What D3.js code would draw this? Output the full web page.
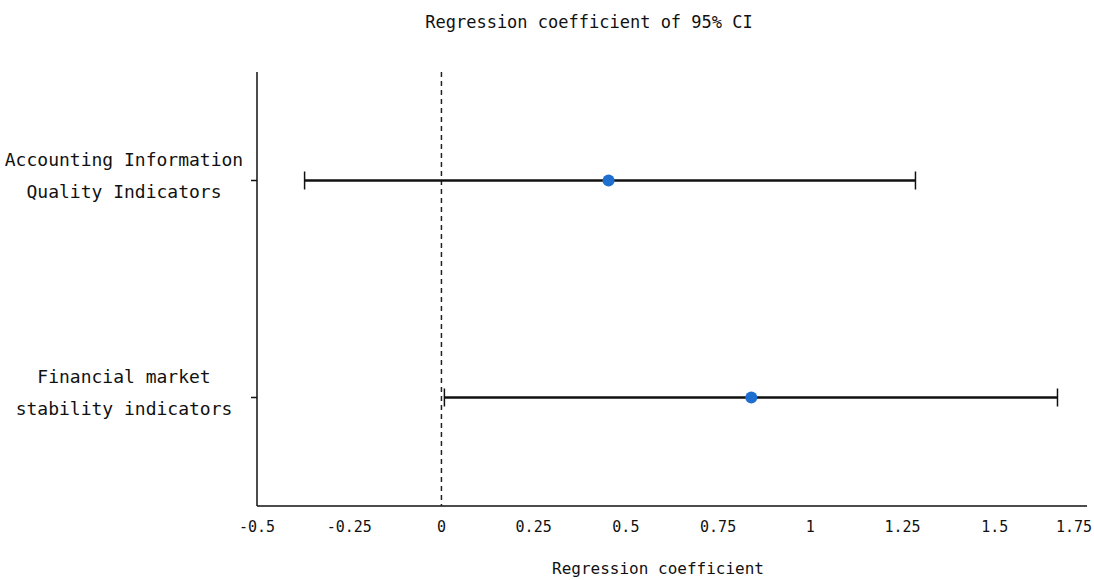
<!DOCTYPE html>
<html>
<head>
<meta charset="utf-8">
<script src="https://cdn.jsdelivr.net/npm/d3@7"></script>
<style>
  body { margin: 0; background: #fff; }
  text { font-family: "DejaVu Sans Mono", monospace; fill: #111; }
</style>
</head>
<body>
<div id="chart"></div>
<script>
// data
var categories = [
    ["Accounting Information", "Quality Indicators"],
    ["Financial market", "stability indicators"]
];
var estimates = [0.453, 0.840];
var lowerCI = [-0.371, 0.008];
var upperCI = [1.285, 1.670];
var xTicks = [-0.5, -0.25, 0, 0.25, 0.5, 0.75, 1, 1.25, 1.5, 1.75];

var width = 1094,
    height = 580,
    plotLeft = 257,
    plotRight = 1087,
    plotTop = 72,
    plotBottom = 506;

var svg = d3.select("#chart").append("svg")
    .attr("width", width)
    .attr("height", height);

var x = d3.scaleLinear()
    .domain([-0.5, 1.75])
    .range([plotLeft, plotRight]);

var y = d3.scalePoint()
    .domain(d3.range(categories.length))
    .range([plotTop, plotBottom])
    .padding(0.5);

// axes
svg.append("line")
    .attr("x1", plotLeft).attr("x2", plotLeft)
    .attr("y1", plotTop).attr("y2", plotBottom)
    .attr("stroke", "#111").attr("stroke-width", 1.5);

svg.append("line")
    .attr("x1", plotLeft).attr("x2", plotRight)
    .attr("y1", plotBottom).attr("y2", plotBottom)
    .attr("stroke", "#111").attr("stroke-width", 1.5);

// x tick labels
svg.selectAll("text.xtick")
    .data(xTicks)
    .enter().append("text")
    .attr("class", "xtick")
    .attr("x", function (d) { return x(d); })
    .attr("y", plotBottom + 26)
    .attr("text-anchor", function (d, i) { return i === xTicks.length - 1 ? "end" : "middle"; })
    .attr("dx", function (d, i) { return i === xTicks.length - 1 ? 5 : 0; })
    .style("font-size", "15px")
    .text(function (d) { return d; });

// y ticks + labels
categories.forEach(function (lines, i) {
    svg.append("line")
        .attr("x1", plotLeft - 6).attr("x2", plotLeft)
        .attr("y1", y(i)).attr("y2", y(i))
        .attr("stroke", "#111").attr("stroke-width", 1.5);
    var t = svg.append("text")
        .attr("text-anchor", "middle")
        .style("font-size", "18px");
    lines.forEach(function (s, j) {
        t.append("tspan")
            .attr("x", 124)
            .attr("y", y(i) - 15 + j * 32)
            .text(s);
    });
});

// zero reference line
svg.append("line")
    .attr("x1", x(0)).attr("x2", x(0))
    .attr("y1", plotTop).attr("y2", plotBottom)
    .attr("stroke", "#222")
    .attr("stroke-width", 1.5)
    .attr("stroke-dasharray", "5,4");

// error bars
var bars = svg.selectAll("g.bar")
    .data(estimates)
    .enter().append("g")
    .attr("class", "bar");

bars.append("line")
    .attr("x1", function (d, i) { return x(lowerCI[i]); })
    .attr("x2", function (d, i) { return x(upperCI[i]); })
    .attr("y1", function (d, i) { return y(i); })
    .attr("y2", function (d, i) { return y(i); })
    .attr("stroke", "#111").attr("stroke-width", 2.5);

[lowerCI, upperCI].forEach(function (arr) {
    bars.append("line")
        .attr("x1", function (d, i) { return x(arr[i]); })
        .attr("x2", function (d, i) { return x(arr[i]); })
        .attr("y1", function (d, i) { return y(i) - 9; })
        .attr("y2", function (d, i) { return y(i) + 9; })
        .attr("stroke", "#111").attr("stroke-width", 1.5);
});

bars.append("circle")
    .attr("cx", function (d) { return x(d); })
    .attr("cy", function (d, i) { return y(i); })
    .attr("r", 6)
    .attr("fill", "#1f6fd1");

// titles
svg.append("text")
    .attr("x", 589)
    .attr("y", 28)
    .attr("text-anchor", "middle")
    .style("font-size", "17px")
    .text("Regression coefficient of 95% CI");

svg.append("text")
    .attr("x", 658)
    .attr("y", 574)
    .attr("text-anchor", "middle")
    .style("font-size", "16px")
    .text("Regression coefficient");
</script>
</body>
</html>
